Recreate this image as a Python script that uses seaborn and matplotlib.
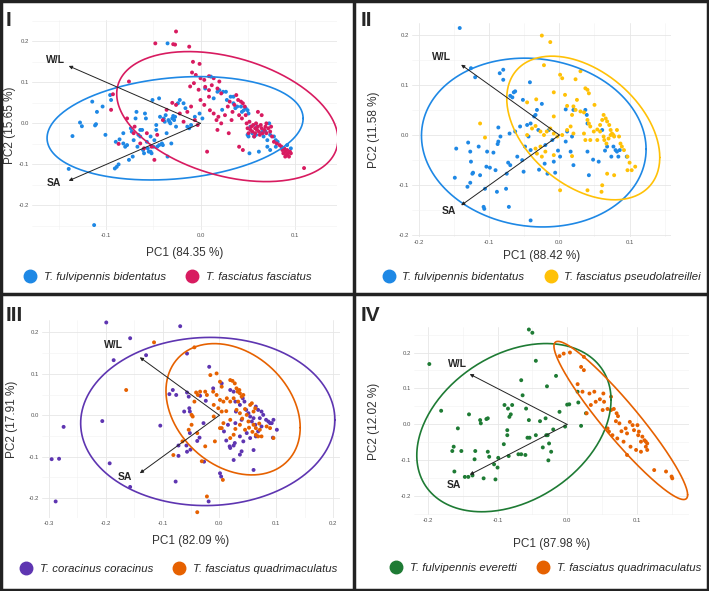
import numpy as np
import pandas as pd
import matplotlib.pyplot as plt
from matplotlib.lines import Line2D
from matplotlib.patches import Rectangle
import seaborn as sns

# ---- panel I : T. fulvipennis bidentatus vs T. fasciatus fasciatus
p1_bident = [(-0.035, 0.195), (-0.113, -0.248), (-0.140, -0.111), (-0.136, -0.031), (-0.128, 0.002),
             (-0.126, -0.007), (-0.115, 0.053), (-0.110, 0.028), (-0.111, -0.002), (-0.112, -0.005),
             (-0.104, 0.041), (-0.101, -0.028), (-0.095, 0.057), (-0.096, 0.069), (-0.090, -0.045),
             (-0.089, -0.106), (-0.091, -0.110), (-0.087, -0.100), (-0.086, -0.039), (-0.082, -0.049),
             (-0.082, -0.024), (-0.080, -0.057), (-0.078, -0.053), (-0.076, -0.089), (-0.074, -0.012),
             (-0.073, -0.020), (-0.072, -0.081), (-0.071, -0.041), (-0.069, 0.012), (-0.068, 0.028),
             (-0.067, -0.057), (-0.066, -0.028), (-0.064, -0.016), (-0.064, -0.032), (-0.062, -0.016),
             (-0.061, -0.065), (-0.060, -0.073), (-0.059, 0.024), (-0.058, 0.012), (-0.057, -0.045),
             (-0.056, -0.061), (-0.055, -0.069), (-0.053, -0.032), (-0.053, -0.069), (-0.052, -0.073),
             (-0.051, 0.057), (-0.050, -0.057), (-0.049, -0.041), (-0.047, -0.016), (-0.047, -0.004),
             (-0.046, -0.057), (-0.044, -0.053), (-0.044, 0.061), (-0.043, 0.016), (-0.041, -0.049),
             (-0.040, -0.053), (-0.039, 0.012), (-0.038, 0.004), (-0.037, 0.020), (-0.036, -0.024),
             (-0.035, -0.081), (-0.034, 0.008), (-0.033, 0.004), (-0.032, 0.000), (-0.031, -0.049),
             (-0.030, 0.012), (-0.029, 0.018), (-0.028, 0.008), (-0.027, 0.016), (-0.026, -0.008),
             (-0.024, 0.049), (-0.022, 0.057), (-0.018, 0.049), (-0.016, 0.037), (-0.014, -0.008),
             (-0.012, -0.012), (-0.010, -0.004), (-0.006, 0.016), (-0.001, 0.024), (0.002, 0.012),
             (0.005, 0.085), (0.011, 0.114), (0.014, 0.061), (0.018, 0.077), (0.020, 0.081),
             (0.023, 0.033), (0.024, 0.077), (0.027, 0.077), (0.028, 0.057), (0.032, 0.065),
             (0.035, 0.049), (0.035, 0.065), (0.037, 0.037), (0.039, 0.041), (0.043, 0.041),
             (0.044, 0.028), (0.046, 0.032), (0.048, 0.037), (0.050, 0.032), (0.051, 0.024),
             (0.053, -0.008), (0.055, -0.024), (0.057, -0.032), (0.050, -0.028), (0.051, -0.032),
             (0.052, -0.073), (0.062, -0.069), (0.059, -0.028), (0.060, -0.008), (0.064, -0.024),
             (0.066, -0.020), (0.067, -0.032), (0.071, -0.041), (0.074, -0.028), (0.078, -0.032),
             (0.080, -0.041), (0.082, -0.045), (0.080, -0.057), (0.074, -0.065), (0.071, -0.057),
             (0.092, -0.053), (0.096, -0.061), (0.069, -0.020), (0.073, 0.000)]
p1_fasc = [(-0.048, 0.195), (-0.026, 0.224), (-0.029, 0.193), (-0.027, 0.192), (-0.012, 0.187),
           (-0.008, 0.150), (-0.001, 0.145), (-0.009, 0.124), (-0.005, 0.118), (0.000, 0.110),
           (0.004, 0.106), (0.009, 0.115), (0.014, 0.110), (0.020, 0.102), (-0.076, 0.102),
           (-0.093, 0.071), (-0.095, 0.033), (-0.078, 0.012), (-0.070, -0.008), (-0.071, -0.024),
           (-0.087, -0.050), (-0.057, -0.024), (-0.049, -0.089), (-0.052, -0.057), (-0.060, -0.061),
           (-0.064, -0.049), (-0.046, -0.028), (-0.040, 0.008), (-0.036, 0.033), (-0.030, 0.050),
           (-0.026, 0.045), (-0.022, 0.024), (-0.018, 0.004), (-0.014, 0.028), (-0.010, 0.041),
           (-0.006, 0.008), (-0.003, -0.004), (0.007, -0.069), (0.005, 0.089), (0.012, 0.093),
           (0.009, 0.081), (0.018, 0.085), (0.022, 0.073), (0.009, 0.065), (0.000, 0.057),
           (-0.002, 0.082), (-0.007, 0.098), (-0.011, 0.090), (0.004, 0.045), (0.010, 0.032),
           (0.014, 0.024), (0.017, 0.008), (0.019, 0.016), (0.022, 0.000), (0.026, 0.020),
           (0.029, 0.041), (0.031, 0.053), (0.033, 0.008), (0.034, 0.028), (0.036, 0.045),
           (0.038, 0.069), (0.040, 0.057), (0.041, 0.020), (0.043, 0.053), (0.044, 0.012),
           (0.045, 0.049), (0.047, 0.041), (0.048, 0.020), (0.049, 0.000), (0.050, -0.012),
           (0.051, -0.024), (0.052, 0.004), (0.053, -0.016), (0.054, -0.008), (0.055, -0.020),
           (0.056, -0.004), (0.057, -0.032), (0.058, -0.012), (0.058, -0.024), (0.059, 0.000),
           (0.060, -0.016), (0.061, -0.008), (0.062, -0.020), (0.063, -0.028), (0.064, -0.004),
           (0.065, -0.012), (0.066, -0.024), (0.068, -0.016), (0.069, -0.008), (0.070, -0.024),
           (0.072, -0.012), (0.074, -0.020), (0.076, -0.032), (0.078, -0.045), (0.081, -0.049),
           (0.084, -0.053), (0.086, -0.057), (0.087, -0.065), (0.088, -0.073), (0.089, -0.061),
           (0.090, -0.069), (0.091, -0.077), (0.092, -0.065), (0.093, -0.073), (0.094, -0.081),
           (0.095, -0.069), (0.096, -0.073), (0.090, -0.081), (0.110, -0.109), (0.041, -0.057),
           (0.045, -0.065), (0.018, -0.016), (0.030, -0.024), (0.065, 0.020), (0.061, 0.028),
           (0.070, 0.000), (0.075, -0.008)]

# ---- panel II : T. fulvipennis bidentatus vs T. fasciatus pseudolatreillei
p2_bident = [(-0.142, 0.213), (-0.126, 0.133), (-0.120, 0.115), (-0.085, 0.123), (-0.080, 0.130),
             (-0.080, 0.110), (-0.042, 0.105), (-0.070, 0.078), (-0.063, 0.087), (-0.067, 0.075),
             (-0.065, 0.085), (-0.052, 0.070), (-0.032, 0.050), (-0.034, 0.040), (-0.025, 0.062),
             (-0.036, 0.037), (-0.041, 0.023), (-0.046, 0.020), (-0.056, 0.017), (-0.063, 0.007),
             (-0.071, 0.003), (-0.087, 0.015), (-0.084, -0.003), (-0.087, -0.013), (-0.088, -0.018),
             (-0.094, -0.035), (-0.103, -0.033), (-0.115, -0.023), (-0.130, -0.015), (-0.127, -0.033),
             (-0.126, -0.053), (-0.123, -0.075), (-0.124, -0.077), (-0.127, -0.095), (-0.131, -0.103),
             (-0.147, -0.027), (-0.149, -0.085), (-0.113, -0.080), (-0.104, -0.063), (-0.099, -0.065),
             (-0.091, -0.070), (-0.106, -0.107), (-0.108, -0.143), (-0.107, -0.147), (-0.089, -0.113),
             (-0.076, -0.107), (-0.072, -0.143), (-0.075, -0.077), (-0.073, -0.055), (-0.070, -0.060),
             (-0.060, -0.043), (-0.051, -0.073), (-0.053, -0.050), (-0.049, -0.023), (-0.044, -0.003),
             (-0.041, -0.030), (-0.029, -0.069), (-0.021, -0.057), (-0.017, -0.077), (-0.006, -0.075),
             (-0.008, -0.053), (-0.002, -0.031), (0.001, -0.043), (0.009, -0.013), (0.011, 0.007),
             (0.016, -0.033), (0.018, -0.003), (0.020, -0.060), (0.020, 0.050), (0.009, 0.051),
             (0.037, 0.050), (0.039, 0.040), (0.040, 0.023), (0.040, -0.033), (0.048, -0.049),
             (0.056, -0.053), (0.042, -0.080), (0.065, -0.031), (0.068, -0.023), (0.077, -0.023),
             (0.080, -0.030), (0.082, -0.033), (0.084, -0.043), (0.086, -0.030), (0.096, -0.043),
             (0.074, -0.043), (0.061, 0.010), (-0.041, -0.170), (-0.015, 0.010), (-0.030, 0.010),
             (-0.010, -0.010), (-0.020, -0.020)]
p2_pseudo = [(-0.025, 0.198), (-0.013, 0.185), (-0.022, 0.139), (0.001, 0.120), (0.004, 0.113),
             (0.023, 0.111), (0.030, 0.127), (0.037, 0.093), (0.040, 0.090), (0.042, 0.083),
             (-0.008, 0.085), (-0.033, 0.071), (-0.046, 0.065), (-0.113, 0.023), (-0.106, -0.005),
             (-0.046, 0.000), (-0.039, 0.013), (-0.034, 0.018), (-0.027, 0.007), (-0.022, 0.000),
             (-0.018, 0.007), (-0.013, 0.013), (-0.008, 0.003), (-0.003, -0.003), (0.004, 0.000),
             (0.011, 0.010), (0.016, 0.017), (0.020, 0.003), (0.018, 0.040), (0.011, 0.058),
             (0.020, 0.057), (0.023, 0.050), (0.030, 0.047), (0.035, 0.045), (0.040, 0.030),
             (0.042, 0.023), (0.044, 0.017), (0.049, 0.007), (0.054, 0.011), (0.058, 0.020),
             (0.061, 0.030), (0.063, 0.040), (0.066, 0.033), (0.068, 0.027), (0.071, 0.020),
             (0.073, 0.010), (0.075, 0.003), (0.077, 0.000), (0.078, -0.003), (0.058, 0.007),
             (0.063, -0.003), (0.064, -0.010), (0.067, -0.017), (0.070, -0.007), (0.073, 0.000),
             (0.082, 0.010), (0.085, -0.003), (0.087, -0.017), (0.089, -0.023), (0.092, -0.030),
             (0.097, -0.043), (0.100, -0.055), (0.108, -0.063), (0.103, -0.070), (0.097, -0.070),
             (0.078, -0.080), (0.068, -0.077), (0.061, -0.100), (0.060, -0.113), (0.040, -0.110),
             (0.001, -0.110), (-0.020, -0.033), (-0.027, -0.023), (-0.034, -0.027), (-0.032, -0.037),
             (-0.025, -0.043), (-0.008, -0.040), (0.018, -0.042), (0.035, 0.003), (0.037, -0.010),
             (0.044, -0.010), (0.054, -0.010), (-0.008, 0.037), (0.008, 0.080), (0.050, 0.060),
             (0.025, 0.070)]

# ---- panel III : T. coracinus coracinus vs T. fasciatus quadrimaculatus
p3_corac = [(-0.199, 0.224), (-0.069, 0.215), (-0.157, 0.186), (-0.129, 0.145), (-0.186, 0.133),
            (-0.057, 0.149), (-0.018, 0.117), (-0.295, -0.106), (-0.282, -0.105), (-0.274, -0.028),
            (-0.206, -0.014), (-0.288, -0.208), (-0.193, -0.116), (-0.157, -0.173), (-0.104, -0.025),
            (-0.088, 0.051), (-0.082, 0.061), (-0.076, 0.049), (-0.057, 0.055), (-0.062, 0.009),
            (-0.053, 0.017), (-0.052, 0.009), (-0.054, 0.045), (-0.034, 0.047), (-0.024, 0.035),
            (-0.028, -0.019), (-0.035, -0.054), (-0.052, -0.043), (-0.058, -0.073), (-0.057, -0.088),
            (-0.072, -0.073), (-0.072, -0.098), (-0.051, -0.083), (-0.077, -0.160), (-0.027, -0.112),
            (-0.019, -0.208), (0.001, -0.140), (0.003, -0.148), (-0.011, 0.065), (0.004, 0.077),
            (0.019, 0.061), (0.025, 0.057), (0.028, 0.033), (0.029, 0.009), (0.036, 0.025),
            (0.041, 0.041), (0.044, 0.033), (0.047, 0.013), (0.051, 0.005), (0.054, -0.003),
            (0.057, -0.015), (0.060, -0.007), (0.064, 0.021), (0.068, 0.013), (0.071, -0.007),
            (0.074, 0.009), (0.077, 0.001), (0.082, -0.011), (0.086, -0.015), (0.089, -0.019),
            (0.095, -0.011), (0.101, -0.035), (0.094, -0.054), (0.092, -0.019), (0.074, -0.027),
            (0.068, -0.039), (0.064, -0.051), (0.060, -0.084), (0.060, -0.132), (0.042, -0.063),
            (0.036, -0.051), (0.027, -0.067), (0.025, -0.073), (0.018, -0.075), (0.012, -0.061),
            (0.008, -0.039), (0.015, -0.023), (0.019, -0.079), (0.036, -0.095), (0.039, -0.087),
            (0.025, -0.108), (0.028, -0.019), (0.039, -0.011), (0.048, -0.043), (0.054, -0.055),
            (0.063, -0.023), (-0.039, -0.062)]
p3_quadri = [(-0.115, 0.176), (-0.044, 0.164), (-0.164, 0.061), (-0.016, 0.097), (-0.005, 0.101),
             (0.001, 0.081), (0.004, 0.069), (0.019, 0.085), (0.023, 0.083), (0.027, 0.077),
             (0.030, 0.065), (0.032, 0.057), (0.035, 0.061), (0.036, 0.053), (0.039, 0.045),
             (0.042, 0.049), (0.033, 0.033), (0.025, 0.041), (0.019, 0.033), (0.013, 0.041),
             (0.007, 0.033), (0.001, 0.037), (-0.005, 0.049), (-0.011, 0.057), (-0.010, 0.025),
             (-0.022, 0.049), (-0.025, 0.057), (-0.034, 0.057), (-0.038, 0.049), (-0.049, 0.001),
             (-0.047, -0.003), (-0.041, 0.055), (-0.044, 0.033), (-0.010, -0.003), (-0.002, 0.017),
             (0.004, 0.009), (0.007, -0.019), (0.019, -0.011), (0.030, 0.013), (0.036, 0.005),
             (0.048, 0.001), (0.051, -0.015), (0.060, -0.023), (0.064, -0.031), (0.071, -0.035),
             (0.064, -0.047), (0.068, -0.051), (0.074, -0.051), (0.083, -0.027), (0.089, -0.031),
             (0.095, -0.055), (0.060, 0.009), (0.063, 0.017), (0.054, 0.025), (0.057, 0.029),
             (0.036, -0.023), (0.025, -0.047), (0.019, -0.055), (0.004, -0.031), (0.001, -0.031),
             (-0.008, -0.063), (-0.025, -0.075), (-0.031, -0.111), (0.006, -0.156), (-0.022, -0.196),
             (-0.039, -0.234), (-0.081, -0.096), (-0.065, -0.063), (-0.054, -0.035), (-0.049, -0.023),
             (-0.039, -0.043), (0.045, 0.015), (0.040, -0.008), (0.052, -0.030), (0.058, -0.040),
             (0.070, -0.020), (0.028, -0.033), (0.012, 0.010), (0.045, -0.035)]

# ---- panel IV : T. fulvipennis everetti vs T. fasciatus quadrimaculatus
p4_everetti = [(-0.055, 0.264), (-0.050, 0.255), (-0.045, 0.177), (-0.198, 0.168), (-0.181, 0.038),
               (-0.016, 0.135), (-0.029, 0.106), (-0.066, 0.123), (-0.064, 0.081), (-0.059, 0.044),
               (-0.090, 0.054), (-0.085, 0.044), (-0.081, 0.028), (-0.079, 0.054), (-0.083, 0.021),
               (-0.141, 0.028), (-0.157, -0.011), (-0.125, 0.012), (-0.124, 0.003), (-0.116, 0.015),
               (-0.114, 0.017), (-0.086, -0.016), (-0.086, -0.030), (-0.055, 0.012), (-0.054, -0.037),
               (-0.039, 0.009), (-0.031, 0.017), (-0.011, 0.035), (0.000, 0.055), (0.003, 0.056),
               (-0.003, -0.006), (0.020, -0.004), (0.016, 0.061), (0.027, 0.031), (0.015, 0.091),
               (-0.020, -0.014), (-0.028, -0.030), (-0.026, -0.053), (-0.023, -0.076), (-0.027, -0.100),
               (-0.035, -0.064), (-0.057, -0.037), (-0.066, -0.083), (-0.070, -0.083), (-0.084, -0.088),
               (-0.091, -0.055), (-0.099, -0.093), (-0.100, -0.120), (-0.105, -0.111), (-0.114, -0.076),
               (-0.112, -0.090), (-0.132, -0.074), (-0.133, -0.097), (-0.120, -0.150), (-0.103, -0.153),
               (-0.136, -0.142), (-0.147, -0.146), (-0.162, -0.131), (-0.165, -0.074), (-0.163, -0.062),
               (-0.152, -0.074), (-0.142, -0.146), (-0.060, -0.085), (-0.045, -0.030), (-0.030, -0.030)]
p4_quadri = [(-0.011, 0.190), (-0.005, 0.197), (0.004, 0.200), (0.024, 0.188), (0.020, 0.160),
             (0.024, 0.151), (0.015, 0.112), (0.022, 0.091), (0.032, 0.086), (0.039, 0.091),
             (0.047, 0.070), (0.052, 0.086), (0.053, 0.063), (0.041, 0.063), (0.034, 0.054),
             (0.028, 0.031), (0.051, 0.040), (0.058, 0.043), (0.063, 0.040), (0.067, 0.043),
             (0.071, 0.031), (0.070, 0.009), (0.073, 0.023), (0.075, 0.003), (0.078, -0.019),
             (0.084, -0.011), (0.086, -0.025), (0.090, 0.007), (0.094, -0.002), (0.096, -0.016),
             (0.101, -0.002), (0.103, -0.020), (0.108, -0.034), (0.111, -0.044), (0.113, -0.048),
             (0.115, -0.053), (0.113, -0.062), (0.106, -0.048), (0.102, -0.030), (0.099, -0.071),
             (0.081, -0.048), (0.060, -0.020), (0.065, -0.030), (0.072, -0.039), (0.086, -0.085),
             (0.106, -0.076), (0.115, -0.071), (0.125, -0.127), (0.142, -0.131), (0.150, -0.145),
             (0.151, -0.150), (0.063, 0.077), (0.058, -0.011), (0.091, -0.062)]

# ellipse summaries per group: centre x, centre y, half width, half height, correlation
ell_p1 = [(-0.027, -0.012, 0.136, 0.126, 0.19), (0.0285, 0.0165, 0.1175, 0.1585, -0.35)]
ell_p2 = [(-0.0365, -0.015, 0.160, 0.168, -0.08), (0.034, 0.014, 0.109, 0.143, -0.41)]
ell_p3 = [(-0.0205, -0.015, 0.2235, 0.203, 0.02), (0.024, 0.0145, 0.118, 0.1585, -0.28)]
ell_p4 = [(-0.0765, -0.009, 0.1395, 0.234, 0.33), (0.077, 0.011, 0.096, 0.220, -0.94)]

# loadings (arrow tips) and variance explained
load_wl = (-0.14, 0.14)
load_sa = (-0.14, -0.14)
pc_var = [(84.35, 15.65), (88.42, 11.58), (82.09, 17.91), (87.98, 12.02)]

col_blue, col_pink, col_yellow = "#1E88E5", "#D81B60", "#FFC107"
col_purple, col_orange, col_green = "#5E35B1", "#E66100", "#1E7B34"

panels = [
    dict(tag="I", groups=[p1_bident, p1_fasc],
         names=["T. fulvipennis bidentatus", "T. fasciatus fasciatus"],
         colors=[col_blue, col_pink], ell=ell_p1,
         xlim=(-0.179, 0.145), ylim=(-0.260, 0.252), xt=[-0.1, 0.0, 0.1],
         rect=[32, 20, 337, 230], leg=(165, 277), tagpos=(6, 11),
         xlab_y=253, ylab_x=10,
         lab_wl=(-0.154, 0.154), lab_sa=(-0.156, -0.145)),
    dict(tag="II", groups=[p2_bident, p2_pseudo],
         names=["T. fulvipennis bidentatus", "T. fasciatus pseudolatreillei"],
         colors=[col_blue, col_yellow], ell=ell_p2,
         xlim=(-0.210, 0.159), ylim=(-0.203, 0.223), xt=[-0.2, -0.1, 0.0, 0.1],
         rect=[412, 23, 671, 237], leg=(539, 277), tagpos=(361, 11),
         xlab_y=256, ylab_x=374,
         lab_wl=(-0.168, 0.155), lab_sa=(-0.158, -0.151)),
    dict(tag="III", groups=[p3_corac, p3_quadri],
         names=["T. coracinus coracinus", "T. fasciatus quadrimaculatus"],
         colors=[col_purple, col_orange], ell=ell_p3,
         xlim=(-0.312, 0.212), ylim=(-0.248, 0.230), xt=[-0.3, -0.2, -0.1, 0.0, 0.1, 0.2],
         rect=[42, 320, 340, 518], leg=(176, 569), tagpos=(6, 306),
         xlab_y=541, ylab_x=12,
         lab_wl=(-0.186, 0.169), lab_sa=(-0.167, -0.148)),
    dict(tag="IV", groups=[p4_everetti, p4_quadri],
         names=["T. fulvipennis everetti", "T. fasciatus quadrimaculatus"],
         colors=[col_green, col_orange], ell=ell_p4,
         xlim=(-0.220, 0.175), ylim=(-0.252, 0.271), xt=[-0.2, -0.1, 0.0, 0.1],
         rect=[414, 327, 689, 515], leg=(543, 568), tagpos=(361, 306),
         xlab_y=544, ylab_x=374,
         lab_wl=(-0.157, 0.169), lab_sa=(-0.162, -0.169)),
]

sns.set_theme(style="white")
plt.rcParams['font.family'] = ['Liberation Sans', 'DejaVu Sans']
plt.rcParams['axes.unicode_minus'] = False

W, H = 709, 591
fig = plt.figure(figsize=(W / 100, H / 100), dpi=100)
t = np.linspace(0, 2 * np.pi, 300)
yt = [-0.2, -0.1, 0.0, 0.1, 0.2]

for i, p in enumerate(panels):
    x0, y0, x1, y1 = p["rect"]
    ax = fig.add_axes([x0 / W, 1 - y1 / H, (x1 - x0) / W, (y1 - y0) / H])
    df = pd.concat([pd.DataFrame(g, columns=["PC1", "PC2"]).assign(sp=n)
                    for g, n in zip(p["groups"], p["names"])])
    sns.scatterplot(data=df, x="PC1", y="PC2", hue="sp", hue_order=p["names"],
                    palette=p["colors"], s=8, linewidth=0, legend=False, ax=ax, zorder=3)
    # data ellipses
    for (cx, cy, hx, hy, r), c in zip(p["ell"], p["colors"]):
        ex = cx + hx * np.cos(t)
        ey = cy + hy * (r * np.cos(t) + np.sqrt(1 - r ** 2) * np.sin(t))
        ax.plot(ex, ey, color=c, lw=1.2, zorder=4)
    # loading arrows
    for tip in (load_wl, load_sa):
        ax.annotate("", xy=tip, xytext=(0, 0), zorder=5,
                    arrowprops=dict(arrowstyle="-|>", lw=0.7, color="#222222",
                                    mutation_scale=5, shrinkA=0, shrinkB=0))
    ax.text(*p["lab_wl"], "W/L", ha="center", va="center", fontsize=7.5, fontweight="bold", zorder=6)
    ax.text(*p["lab_sa"], "SA", ha="center", va="center", fontsize=7.5, fontweight="bold", zorder=6)

    xt = p["xt"]
    ax.set_xticks(xt)
    ax.set_yticks(yt)
    ax.set_xticks([v + 0.05 for v in [xt[0] - 0.1] + xt], minor=True)
    ax.set_yticks([-0.25, -0.15, -0.05, 0.05, 0.15, 0.25], minor=True)
    ax.set_xticklabels([f"{v:.1f}" for v in xt])
    ax.set_yticklabels([f"{v:.1f}" for v in yt])
    # limits after ticks, so the off-range minor ticks do not widen the view
    ax.set_xlim(p["xlim"])
    ax.set_ylim(p["ylim"])
    ax.grid(True, which="major", color="#E6E6E6", lw=0.6)
    ax.grid(True, which="minor", color="#F1F1F1", lw=0.4)
    ax.set_axisbelow(True)
    ax.tick_params(which="both", length=0, labelsize=4.3, labelcolor="#555555", pad=2)
    for s in ax.spines.values():
        s.set_visible(False)
    v1, v2 = pc_var[i]
    ax.set_xlabel(f"PC1 ({v1:.2f} %)", fontsize=8.5, color="#333333", va="center")
    ax.set_ylabel(f"PC2 ({v2:.2f} %)", fontsize=8.5, color="#333333", va="center")
    ax.xaxis.set_label_coords(0.5, (y1 - p["xlab_y"]) / (y1 - y0))
    ax.yaxis.set_label_coords((p["ylab_x"] - x0) / (x1 - x0), 0.5)

    handles = [Line2D([0], [0], marker="o", ls="", markersize=9, color=c) for c in p["colors"]]
    fig.legend(handles, p["names"], loc="center", ncol=2, frameon=False,
               bbox_to_anchor=(p["leg"][0] / W, 1 - p["leg"][1] / H),
               prop={"style": "italic", "size": 8.2}, handletextpad=0.2, columnspacing=1.3)
    fig.text(p["tagpos"][0] / W, 1 - p["tagpos"][1] / H, p["tag"], fontsize=15,
             fontweight="bold", ha="left", va="top")

# panel frames
fig.add_artist(Rectangle((0.002, 0.002), 0.996, 0.996, transform=fig.transFigure,
                         fill=False, lw=2.5, color="#222222"))
fig.add_artist(Line2D([354 / W, 354 / W], [0, 1], transform=fig.transFigure, lw=2.5, color="#222222"))
fig.add_artist(Line2D([0, 1], [1 - 294 / H, 1 - 294 / H], transform=fig.transFigure, lw=2.5, color="#222222"))

fig.savefig("out.png", dpi=100, facecolor="white")
